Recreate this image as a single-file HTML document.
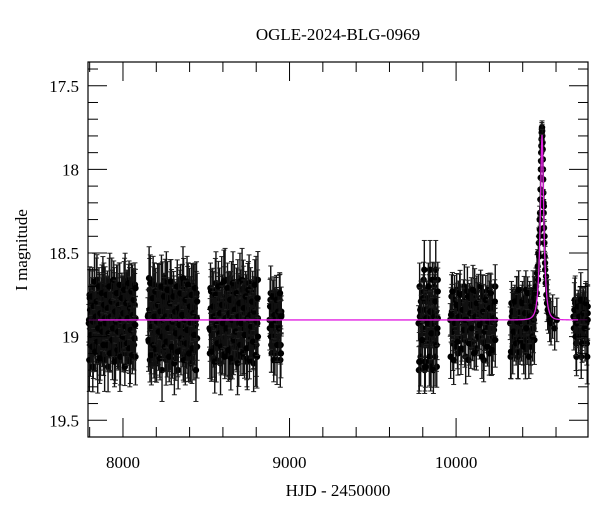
<!DOCTYPE html>
<html><head><meta charset="utf-8"><style>
html,body{margin:0;padding:0;background:#fff;}
svg{display:block;font-family:"Liberation Serif",serif;}
</style></head><body>
<svg id="chart" width="600" height="512" viewBox="0 0 600 512" xmlns="http://www.w3.org/2000/svg">
<text x="338" y="40" font-size="17" text-anchor="middle">OGLE-2024-BLG-0969</text>
<text x="338" y="496" font-size="17" text-anchor="middle">HJD - 2450000</text>
<text transform="translate(27,250) rotate(-90)" font-size="17" text-anchor="middle">I magnitude</text>
<g id="marks"></g>
<g id="axes"></g>
</svg>
<script>
const xTicks=[8000,9000,10000];
const yTicks=[17.5,18,18.5,19,19.5];
const yTickLabels=["17.5","18","18.5","19","19.5"];
const seasonStarts=[7795,8150,8520,8880,9775,9965,10325,10705];
const seasonEnds=[8075,8445,8810,8950,9890,10235,10470,10790];
const s1Mags=[18.92,18.75,19.05,18.83,18.98,18.70,19.10,18.88,18.79,19.02,18.95,18.66,19.15,18.85,18.91,18.74,19.08,18.97,18.81,18.69,19.12,18.90,18.77,19.00,18.86,18.72,19.18,18.94,18.80,19.04,18.89,18.68,19.07,18.83,18.96,18.73,19.11,18.87,18.78,19.01,18.93,18.71,19.14,18.84,18.99,18.76,19.06,18.91,18.82,18.67,19.09,18.88,18.79,19.03,18.95,18.70,19.13,18.86,18.92,18.74,18.97,19.05,18.81,18.89];
const s2Mags=[18.88,19.03,18.72,18.95,19.12,18.80,18.67,19.06,18.91,18.76,19.16,18.85,18.98,18.70,19.09,18.83,18.93,18.74,19.01,18.87,18.65,19.14,18.90,18.78,19.04,18.96,18.69,19.10,18.82,18.92,18.75,19.07,18.86,18.99,18.71,19.20,18.89,18.79,19.02,18.84,18.68,19.11,18.94,18.77,19.05,18.88,18.73,19.08,18.91,18.81,18.97,19.13,18.85,18.70,19.00,18.90,18.76,19.06];
const s3Mags=[18.95,18.71,19.08,18.86,18.78,19.13,18.90,18.68,19.02,18.84,18.97,18.74,19.16,18.88,18.80,19.05,18.92,18.66,19.10,18.83,18.99,18.76,19.07,18.89,18.72,19.14,18.87,18.94,18.79,19.03,18.85,18.69,19.11,18.91,18.77,19.00,18.96,18.73,19.09,18.82,18.88,19.15,18.75,18.93,19.04,18.70,18.98,18.86,19.06,18.81,18.92,18.67,19.12,18.89];
const s4Mags=[18.90,18.78,19.05,18.85,18.95,18.74,19.10,18.88,18.82,19.00,18.93,18.76,19.14,18.87];
const s5Mags=[18.92,18.70,19.12,18.85,18.98,18.66,19.20,18.88,18.79,19.05,18.95,18.73,19.15,18.84,18.91,19.02,18.77,18.60,19.18,18.89];
const s6Mags=[18.90,18.76,19.04,18.86,18.95,18.72,19.10,18.88,18.80,19.00,18.93,18.70,19.12,18.85,18.97,18.78,19.06,18.91,18.83,18.74,19.08,18.89,18.79,19.02,18.87,18.73,19.14,18.92,18.81,19.03,18.88,18.75,19.07,18.84,18.96,18.90];
const s7Mags=[18.92,18.80,19.06,18.86,18.95,18.74,19.12,18.88,18.82,19.00,18.90,18.77,19.09,18.85,18.97,18.79,19.04,18.91,18.72,19.02];
const s8Mags=[18.88,18.78,19.04,18.86,18.95,18.80,19.12,18.90,18.84,19.00,18.92,18.82];
const seasonMags=[s1Mags,s2Mags,s3Mags,s4Mags,s5Mags,s6Mags,s7Mags,s8Mags];
const seasonErrs=[0.15,0.15,0.15,0.13,0.14,0.13,0.13,0.13];
const peakTimes=[10474,10478,10480,10484,10486,10490,10492,10494,10497,10499,10500,10502,10503,10504,10506,10507,10508,10509,10510,10511,10512,10513,10514,10515,10516,10517,10518,10519,10520,10521,10522,10523,10524,10525,10526,10527,10528,10530,10531,10532,10534,10535,10538,10540,10542,10546,10550,10553,10556,10562,10570,10580,10592,10605];
const peakMags=[18.80,18.85,18.70,18.74,18.62,18.58,18.66,18.50,18.44,18.52,18.40,18.30,18.36,18.26,18.18,18.12,18.05,18.00,17.95,17.90,17.86,17.82,17.78,17.76,17.75,17.77,17.80,17.84,17.88,17.94,18.00,18.06,18.14,18.20,18.26,18.22,18.35,18.44,18.40,18.52,18.56,18.60,18.68,18.64,18.75,18.80,18.84,18.78,18.86,18.90,18.92,18.88,18.95,18.90];
const peakErrs=[0.12,0.12,0.11,0.11,0.11,0.1,0.1,0.1,0.09,0.09,0.09,0.08,0.08,0.08,0.07,0.07,0.06,0.06,0.05,0.05,0.05,0.04,0.04,0.04,0.04,0.04,0.04,0.05,0.05,0.05,0.06,0.06,0.07,0.07,0.08,0.08,0.08,0.09,0.09,0.09,0.1,0.1,0.1,0.11,0.11,0.11,0.12,0.12,0.12,0.13,0.13,0.13,0.13,0.13];
const modelT0=10516, modelTE=20, modelU0=0.38, modelBase=18.9;

const L=88,R=588,T=62,B=437;
const xMin=7790,xMax=10792,yMin=17.358,yMax=19.60;
const sx=v=>L+(v-xMin)/(xMax-xMin)*(R-L);
const sy=v=>T+(v-yMin)/(yMax-yMin)*(B-T);
const NS="http://www.w3.org/2000/svg";
const marks=document.getElementById('marks');
const axes=document.getElementById('axes');
function mk(tag,attrs,parent){const e=document.createElementNS(NS,tag);for(const k in attrs)e.setAttribute(k,attrs[k]);parent.appendChild(e);return e;}

function point(t,m,err,parent){
  const x=sx(t);
  const g=mk('g',{},parent);
  
  
  mk('line',{x1:x,x2:x,y1:sy(m-err),y2:sy(m+err),stroke:'#111','stroke-width':1.4},g);
  mk('line',{x1:x-2.5,x2:x+2.5,y1:sy(m-err),y2:sy(m-err),stroke:'#222','stroke-width':1},g);
  mk('line',{x1:x-2.5,x2:x+2.5,y1:sy(m+err),y2:sy(m+err),stroke:'#222','stroke-width':1},g);
  mk('circle',{cx:x,cy:sy(m),r:3.2,fill:'#000'},g);
}
const passes=[0,0.33,0.66];
passes.forEach((off,p)=>{
  seasonMags.forEach((arr,i)=>{
    const n=arr.length;
    const shift=p*Math.floor(n/3);
    arr.forEach((_,j)=>{
      const m=arr[(j+shift)%n];
      const t=seasonStarts[i]+(seasonEnds[i]-seasonStarts[i])*Math.min(1,(j+off)/(n-1));
      const e=seasonErrs[i]*(0.75+0.5*(((j+p)*7)%5)/4);
      point(t,m,e,marks);
    });
  });
});
peakTimes.forEach((t,j)=>point(t,peakMags[j],peakErrs[j],marks));

// model curve
let d='';
for(let px=L;px<=R;px+=0.5){
  const t=xMin+(px-L)/(R-L)*(xMax-xMin);
  const tau=(t-modelT0)/modelTE;
  const u=Math.sqrt(modelU0*modelU0+tau*tau);
  const A=(u*u+2)/(u*Math.sqrt(u*u+4));
  const m=modelBase-2.5*Math.log10(A);
  d+=(d?'L':'M')+px.toFixed(1)+','+sy(m).toFixed(2);
}
const model=mk('path',{d:d,fill:'none',stroke:'#e020e0','stroke-width':1.3},marks);



const frame=mk('rect',{x:L,y:T,width:R-L,height:B-T,fill:'none',stroke:'#000','stroke-width':1.2},axes);


for(let v=7800;v<=xMax;v+=200){
  const x=sx(v);const major=v%1000===0;const len=major?19:10;
  mk('line',{x1:x,x2:x,y1:B,y2:B-len,stroke:'#000','stroke-width':1},axes);
  mk('line',{x1:x,x2:x,y1:T,y2:T+len,stroke:'#000','stroke-width':1},axes);
}
xTicks.forEach(v=>{
  const t=mk('text',{x:sx(v),y:B+31,'font-size':17,'text-anchor':'middle'},axes);
  
  
  t.textContent=String(v);
});
for(let k=174;k<=196;k++){
  const v=k/10; if(v<yMin||v>yMax)continue;
  const y=sy(v);const major=k%5===0;const len=major?19:10;
  mk('line',{x1:L,x2:L+len,y1:y,y2:y,stroke:'#000','stroke-width':1},axes);
  mk('line',{x1:R,x2:R-len,y1:y,y2:y,stroke:'#000','stroke-width':1},axes);
}
yTicks.forEach((v,i)=>{
  const t=mk('text',{x:79,y:sy(v)+6,'font-size':17,'text-anchor':'end'},axes);
  
  
  t.textContent=yTickLabels[i];
});
</script>
</body></html>
